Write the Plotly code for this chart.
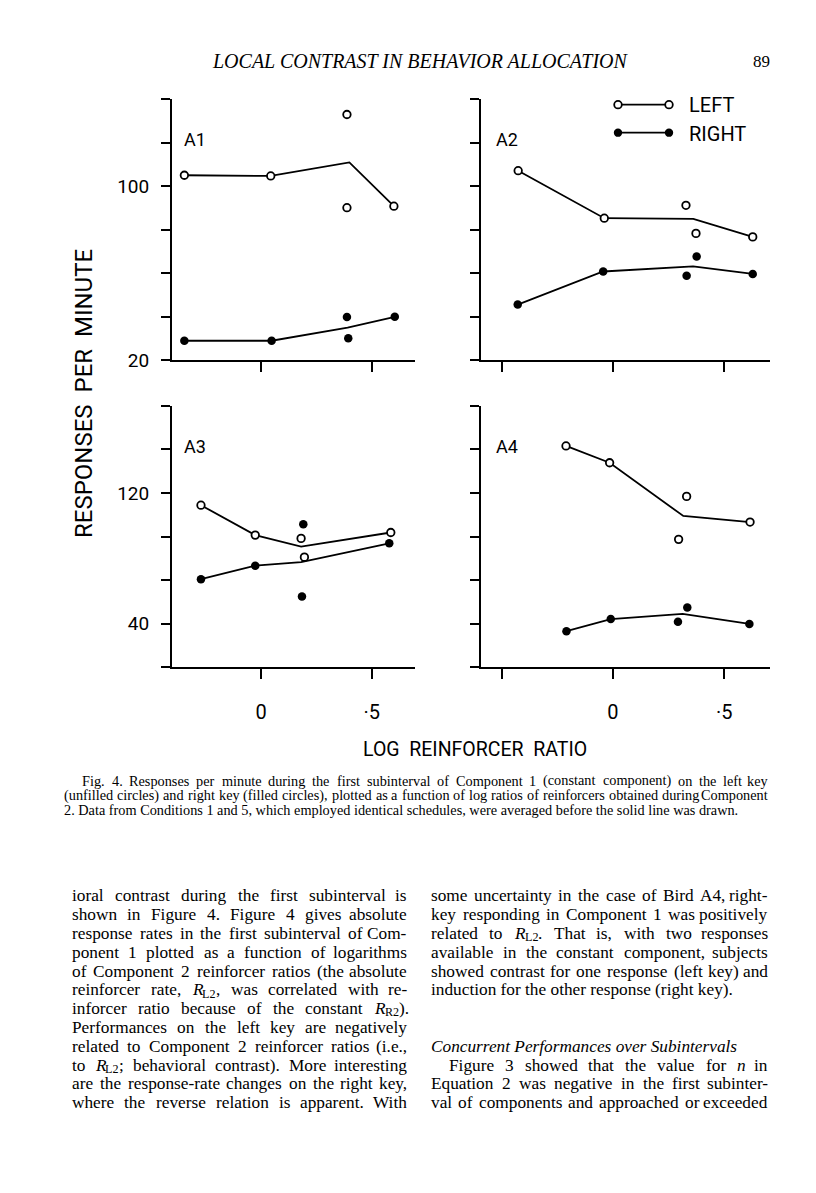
import plotly.graph_objects as go

# ---------------- data ----------------
# Panel A1
a1_left_x = [-0.346, 0.044, 0.388, 0.388, 0.600]
a1_left_y = [105.0, 104.7, 132.9, 90.1, 90.8]
a1_left_line_x = [-0.346, 0.044, 0.399, 0.600]
a1_left_line_y = [105.0, 104.7, 110.9, 90.8]
a1_right_x = [-0.346, 0.048, 0.388, 0.394, 0.604]
a1_right_y = [29.0, 29.0, 39.9, 30.1, 40.0]
a1_right_line_x = [-0.346, 0.048, 0.391, 0.604]
a1_right_line_y = [29.0, 29.0, 35.0, 40.0]

# Panel A2
a2_left_x = [-0.426, -0.039, 0.328, 0.373, 0.628]
a2_left_y = [107.1, 85.3, 91.2, 78.3, 76.7]
a2_left_line_x = [-0.426, -0.039, 0.361, 0.628]
a2_left_line_y = [107.1, 85.3, 85.0, 76.7]
a2_right_x = [-0.428, -0.044, 0.331, 0.376, 0.628]
a2_right_y = [45.6, 60.8, 58.8, 67.7, 59.7]
a2_right_line_x = [-0.428, -0.044, 0.360, 0.628]
a2_right_line_y = [45.6, 60.8, 63.2, 59.7]

# Panel A3
a3_left_x = [-0.271, -0.026, 0.181, 0.196, 0.586]
a3_left_y = [112.5, 94.2, 92.2, 80.7, 95.8]
a3_left_line_x = [-0.271, -0.026, 0.181, 0.586]
a3_left_line_y = [112.5, 94.2, 87.1, 95.8]
a3_right_x = [-0.271, -0.026, 0.191, 0.185, 0.579]
a3_right_y = [67.2, 75.5, 100.8, 56.6, 89.2]
a3_right_line_x = [-0.271, -0.026, 0.181, 0.579]
a3_right_line_y = [67.2, 75.5, 77.7, 89.2]

# Panel A4
a4_left_x = [-0.211, -0.015, 0.331, 0.295, 0.616]
a4_left_y = [148.8, 138.5, 117.9, 91.6, 102.2]
a4_left_line_x = [-0.211, -0.015, 0.316, 0.616]
a4_left_line_y = [148.8, 138.5, 105.9, 102.2]
a4_right_x = [-0.209, -0.010, 0.292, 0.334, 0.613]
a4_right_y = [35.4, 42.8, 41.2, 49.9, 39.8]
a4_right_line_x = [-0.209, -0.010, 0.313, 0.613]
a4_right_line_y = [35.4, 42.8, 46.0, 39.8]

panel_names = ["A1", "A2", "A3", "A4"]

# axis ticks
x_label_vals = [0.0, 0.5]
x_label_text = ["0", "\u00b75"]
x_minor_vals = [-0.5]
top_y_label_vals = [20, 100]
top_y_label_text = ["20", "100"]
top_y_minor_vals = [40, 60, 80, 120, 140]
bot_y_label_vals = [40, 120]
bot_y_label_text = ["40", "120"]
bot_y_minor_vals = [13.34, 66.667, 93.333, 146.667, 173.32]

x_title = "LOG  REINFORCER  RATIO"
y_title = "RESPONSES  PER  MINUTE"

# ---------------- page geometry ----------------
# the browser page has an 8px body margin, so the figure starts at page (8, 8)
OFF = 8
W, H = 795, 1170

def px(x):
    return (x - OFF) / W

def py(y):
    return 1 - (y - OFF) / H

SANS = "Roboto, Liberation Sans, sans-serif"
SERIF = "Liberation Serif, Times New Roman, serif"

col_dom = [[px(172), px(415)], [px(481), px(770)]]
col_rng = [[-0.4018, 0.6953], [-0.593, 0.7056]]
row_dom = [[py(364), py(100)], [py(674), py(410)]]
row_rng = [[20, 140], [13.333, 173.333]]

panels = [
    (a1_left_x, a1_left_y, a1_left_line_x, a1_left_line_y,
     a1_right_x, a1_right_y, a1_right_line_x, a1_right_line_y),
    (a2_left_x, a2_left_y, a2_left_line_x, a2_left_line_y,
     a2_right_x, a2_right_y, a2_right_line_x, a2_right_line_y),
    (a3_left_x, a3_left_y, a3_left_line_x, a3_left_line_y,
     a3_right_x, a3_right_y, a3_right_line_x, a3_right_line_y),
    (a4_left_x, a4_left_y, a4_left_line_x, a4_left_line_y,
     a4_right_x, a4_right_y, a4_right_line_x, a4_right_line_y),
]

fig = go.Figure()
layout_axes = {}
LINE_W = 1.8
TICK = dict(ticks="outside", tickwidth=2, tickcolor="black")

for i, p in enumerate(panels):
    row, col = divmod(i, 2)
    n = i + 1
    xa = "x" if n == 1 else f"x{n}"
    ya = "y" if n == 1 else f"y{n}"
    lx, ly, llx, lly, rx, ry, rlx, rly = p
    for lxs, lys in ((llx, lly), (rlx, rly)):
        fig.add_trace(go.Scatter(x=lxs, y=lys, xaxis=xa, yaxis=ya, mode="lines",
                                 line=dict(color="black", width=LINE_W),
                                 showlegend=False, hoverinfo="skip"))
    fig.add_trace(go.Scatter(x=lx, y=ly, xaxis=xa, yaxis=ya, mode="markers",
                             marker=dict(symbol="circle", size=7.5, color="white",
                                         line=dict(color="black", width=1.8)),
                             showlegend=False, cliponaxis=False, name="LEFT"))
    fig.add_trace(go.Scatter(x=rx, y=ry, xaxis=xa, yaxis=ya, mode="markers",
                             marker=dict(symbol="circle", size=8.5, color="black",
                                         line=dict(color="black", width=0)),
                             showlegend=False, cliponaxis=False, name="RIGHT"))

    xkey = "xaxis" if n == 1 else f"xaxis{n}"
    ykey = "yaxis" if n == 1 else f"yaxis{n}"
    xaxis = dict(
        domain=col_dom[col], range=col_rng[col], anchor=ya,
        showline=True, linecolor="black", linewidth=2,
        ticklen=10, **TICK,
        tickfont=dict(family=SANS, size=20, color="black"),
        ticklabelstandoff=16,
        showgrid=False, zeroline=False, fixedrange=True,
    )
    if row == 1:
        xaxis.update(tickmode="array", tickvals=x_label_vals, ticktext=x_label_text,
                     minor=dict(tickmode="array", tickvals=x_minor_vals,
                                ticklen=10, **TICK))
    else:
        xaxis.update(tickmode="array", tickvals=x_minor_vals + x_label_vals,
                     showticklabels=False)
    layout_axes[xkey] = xaxis

    lab_vals = top_y_label_vals if row == 0 else bot_y_label_vals
    lab_text = top_y_label_text if row == 0 else bot_y_label_text
    min_vals = top_y_minor_vals if row == 0 else bot_y_minor_vals
    yaxis = dict(
        domain=row_dom[row], range=row_rng[row], anchor=xa,
        showline=True, linecolor="black", linewidth=2,
        ticklen=9, **TICK,
        tickfont=dict(family=SANS, size=19, color="black"),
        ticklabelstandoff=8,
        showgrid=False, zeroline=False, fixedrange=True,
    )
    if col == 0:
        yaxis.update(tickmode="array", tickvals=lab_vals, ticktext=lab_text,
                     minor=dict(tickmode="array", tickvals=min_vals,
                                ticklen=9, **TICK))
    else:
        yaxis.update(tickmode="array", tickvals=sorted(lab_vals + min_vals),
                     showticklabels=False)
    layout_axes[ykey] = yaxis

annotations = []

def add_text(x, y, text, size, family, xanchor="left", yanchor="middle",
             textangle=0):
    annotations.append(dict(x=px(x), y=py(y), xref="paper", yref="paper",
                            text=text, showarrow=False, xanchor=xanchor,
                            yanchor=yanchor, textangle=textangle, borderpad=0,
                            font=dict(family=family, size=size, color="black")))

# panel labels
label_pos = [(183, 141), (495, 141), (183, 451), (495, 451)]
for name, (x, y) in zip(panel_names, label_pos):
    add_text(x, y, name, 18, SANS)

# legend (shapes + text)
shapes = []
for yy, filled in [(105.7, False), (134, True)]:
    shapes.append(dict(type="line", xref="paper", yref="paper",
                       x0=px(618), x1=px(669), y0=py(yy), y1=py(yy),
                       line=dict(color="black", width=LINE_W)))
    for xx in (618, 669):
        r = 4.2 if filled else 3.8
        shapes.append(dict(type="circle", xref="paper", yref="paper",
                           x0=px(xx - r), x1=px(xx + r), y0=py(yy + r), y1=py(yy - r),
                           fillcolor="black" if filled else "white",
                           line=dict(color="black", width=0 if filled else 1.8)))
add_text(688, 106, "LEFT", 20, SANS)
add_text(688, 135, "RIGHT", 20, SANS)

# axis titles
add_text(475, 757, x_title, 19.5, SANS, xanchor="center")
add_text(84, 398, y_title, 24, SANS, xanchor="center", textangle=-90)

# running head
add_text(420, 62, "<i>LOCAL CONTRAST IN BEHAVIOR ALLOCATION</i>", 20, SERIF,
         xanchor="center")
add_text(771, 62, "89", 17, SERIF, xanchor="right")

# ---------------- justified serif text ----------------
TW = {" ": 250, ".": 250, ",": 250, ";": 278, ":": 278, "-": 333, "(": 333,
      ")": 333, "'": 333}
TW.update({c: 500 for c in "0123456789"})
TW.update(dict(zip("abcdefghijklmnopqrstuvwxyz",
                   [444, 500, 444, 500, 444, 333, 500, 500, 278, 278, 500, 278, 778,
                    500, 500, 500, 500, 333, 389, 278, 500, 500, 722, 500, 500, 444])))
TW.update(dict(zip("ABCDEFGHIJKLMNOPQRSTUVWXYZ",
                   [722, 667, 667, 722, 611, 556, 722, 722, 333, 389, 722, 611, 889,
                    722, 722, 556, 722, 667, 556, 611, 722, 722, 944, 722, 722, 611])))
SUB_SCALE = 0.7

def em_width(markup):
    w, scale, i = 0.0, 1.0, 0
    while i < len(markup):
        if markup[i] == "<":
            j = markup.index(">", i)
            tag = markup[i + 1:j]
            if tag == "sub":
                scale = SUB_SCALE
            elif tag == "/sub":
                scale = 1.0
            i = j + 1
            continue
        ch_w = TW.get(markup[i], 500)
        if markup[i] == "R" and scale == 1.0 and "<i>R" in markup:
            ch_w = 611
        w += ch_w * scale
        i += 1
    return w / 1000.0

def place_word(x, y, word, size):
    """Place a word whose left edge is at x; subscripts become small lowered pieces."""
    if "<sub>" not in word:
        add_text(x, y, word, size, SERIF)
        return
    pre, rest = word.split("<sub>", 1)
    sub, post = rest.split("</sub>", 1)
    add_text(x, y, pre, size, SERIF)
    x += em_width(pre) * size
    add_text(x, y + 0.22 * size, sub, size * SUB_SCALE, SERIF)
    x += em_width(sub) * size * SUB_SCALE
    if post:
        add_text(x, y, post, size, SERIF)

def add_line(x0, x1, y, line, size, justify=True):
    words = [w for w in line.split(" ") if w]
    if not justify or len(words) == 1:
        if "<sub>" in line:
            x = x0
            for w in words:
                place_word(x, y, w, size)
                x += (em_width(w) + 0.25) * size
        else:
            add_text(x0, y, line, size, SERIF)
        return
    widths = [em_width(w) * size for w in words]
    gap = (x1 - x0 - sum(widths)) / (len(words) - 1)
    x = x0
    for k, (w, wd) in enumerate(zip(words, widths)):
        if k == len(words) - 1 and "<sub>" not in w:
            add_text(x1, y, w, size, SERIF, xanchor="right")
        elif k == len(words) - 1:
            place_word(x1 - wd, y, w, size)
        else:
            place_word(x, y, w, size)
        x += wd + gap

# caption
cap_lines = [
    "Fig. 4.  Responses per minute during the first subinterval of Component 1 (constant component) on the left key",
    "(unfilled circles) and right key (filled circles), plotted as a function of log ratios of reinforcers obtained during Component",
    "2. Data from Conditions 1 and 5, which employed identical schedules, were averaged before the solid line was drawn.",
]
CAP_L, CAP_R = 63, 769
cap_size = round(0.99 * (CAP_R - CAP_L) / em_width(cap_lines[1]), 2)
add_line(CAP_L + 18, CAP_R, 789, cap_lines[0], cap_size)
add_line(CAP_L, CAP_R, 803.5, cap_lines[1], cap_size)
add_line(CAP_L, CAP_R, 818, cap_lines[2], cap_size, justify=False)

RL2 = "<i>R</i><sub>L2</sub>"
RR2 = "<i>R</i><sub>R2</sub>"
left_body = [
    "ioral contrast during the first subinterval is",
    "shown in Figure 4. Figure 4 gives absolute",
    "response rates in the first subinterval of Com-",
    "ponent 1 plotted as a function of logarithms",
    "of Component 2 reinforcer ratios (the absolute",
    f"reinforcer rate, {RL2}, was correlated with re-",
    f"inforcer ratio because of the constant {RR2}).",
    "Performances on the left key are negatively",
    "related to Component 2 reinforcer ratios (i.e.,",
    f"to {RL2}; behavioral contrast). More interesting",
    "are the response-rate changes on the right key,",
    "where the reverse relation is apparent. With",
]
# (line index, indent, text, justified)
right_body = [
    (0, 0, "some uncertainty in the case of Bird A4, right-", True),
    (1, 0, "key responding in Component 1 was positively", True),
    (2, 0, f"related to {RL2}. That is, with two responses", True),
    (3, 0, "available in the constant component, subjects", True),
    (4, 0, "showed contrast for one response (left key) and", True),
    (5, 0, "induction for the other response (right key).", False),
    (8, 0, "<i>Concurrent Performances over Subintervals</i>", False),
    (9, 18, "Figure 3 showed that the value for <i>n</i> in", True),
    (10, 0, "Equation 2 was negative in the first subinter-", True),
    (11, 0, "val of components and approached or exceeded", True),
]
BODY_SIZE = 17.3
BODY_Y0, BODY_DY = 905, 19.0
LC = (71, 408)
RC = (430, 769)
for k, t in enumerate(left_body):
    add_line(LC[0], LC[1], BODY_Y0 + BODY_DY * k, t, BODY_SIZE)
for k, ind, t, just in right_body:
    add_line(RC[0] + ind, RC[1], BODY_Y0 + BODY_DY * k, t, BODY_SIZE, justify=just)

fig.update_layout(
    width=W, height=H,
    margin=dict(l=0, r=0, t=0, b=0),
    paper_bgcolor="white", plot_bgcolor="white",
    showlegend=False,
    annotations=annotations,
    shapes=shapes,
    **layout_axes,
)

fig.write_html("out.html")
